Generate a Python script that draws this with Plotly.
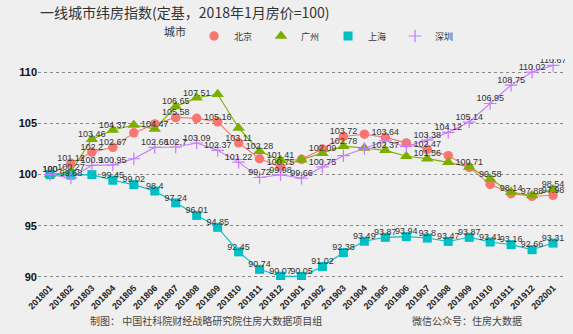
import plotly.graph_objects as go

months = ["201801", "201802", "201803", "201804", "201805", "201806", "201807", "201808",
          "201809", "201810", "201811", "201812", "201901", "201902", "201903", "201904",
          "201905", "201906", "201907", "201908", "201909", "201910", "201911", "201912", "202001"]

beijing = [100, 101.12, 102.2, 102.67, 104.08, 104.95, 105.58, 105.5, 105.16, 103.11, 101.55, 100.75,
           101.5, 102.5, 103.72, 103.95, 103.64, 103.1, 102.47, 101.85, 100.71, 99.05, 98.14, 97.88, 97.98]
guangzhou = [100, 100.27, 103.46, 104.37, 104.85, 104.47, 106.65, 107.51, 107.85, 104.56, 102.28, 101.41,
             101.45, 102.09, 102.78, 102.6, 102.37, 101.8, 101.56, 101.2, 100.75, 99.58, 98.3, 97.95, 98.54]
shanghai = [100, 99.95, 100, 99.45, 99.02, 98.4, 97.24, 96.01, 94.85, 92.45, 90.74, 90.07,
            90.05, 91.02, 92.38, 93.49, 93.87, 93.94, 93.8, 93.47, 93.87, 93.41, 93.16, 92.66, 93.31]
shenzhen = [100, 99.68, 100.9, 100.95, 101.55, 102.66, 102.7, 103.09, 102.37, 101.22, 99.72, 99.98,
            99.66, 100.75, 101.85, 102.55, 103.3, 102.75, 103.38, 104.12, 105.14, 106.95, 108.75, 110.02, 110.67]

bj_hidden = ["201805", "201806", "201808", "201811", "201901", "201902", "201904", "201906", "201908", "201910"]
gz_hidden = ["201801", "201805", "201809", "201810", "201901", "201904", "201906", "201908", "201909", "201911", "201912"]
sh_hidden = ["201802", "201803"]
sz_hidden = ["201801", "201805", "201903", "201904", "201905", "201906"]

y_ticks = [90, 95, 100, 105, 110]

series = [
    ("北京", beijing, bj_hidden, "#F8766D", dict(symbol="circle", size=9.5)),
    ("广州", guangzhou, gz_hidden, "#7CAE00", dict(symbol="triangle-up", size=11)),
    ("上海", shanghai, sh_hidden, "#00BFC4", dict(symbol="square", size=9)),
    ("深圳", shenzhen, sz_hidden, "#C77CFF", dict(symbol="cross-thin-open", size=9, line=dict(width=1.2))),
]

fig = go.Figure()
for name, vals, hidden, color, mk in series:
    fig.add_trace(go.Scatter(x=months, y=vals, mode="lines", line=dict(color=color, width=1.1),
                             showlegend=False, hoverinfo="skip"))
for name, vals, hidden, color, mk in series:
    m = dict(mk)
    m["color"] = color
    if "line" in m:
        m["line"] = dict(m["line"], color=color)
    fig.add_trace(go.Scatter(x=months, y=vals, mode="markers", marker=m, name=name))
for name, vals, hidden, color, mk in series:
    texts = ["" if mo in hidden else str(v) for mo, v in zip(months, vals)]
    fig.add_trace(go.Scatter(x=months, y=vals, mode="text", text=texts, textposition="top center",
                             marker=dict(size=1),
                             textfont=dict(family="Liberation Sans, Arial", size=9, color="#333333"),
                             showlegend=False, hoverinfo="skip"))

bg = "#EFEFEF"
fig.update_layout(
    width=573, height=334, autosize=False,
    margin=dict(l=38, r=8, t=59, b=54),
    paper_bgcolor=bg, plot_bgcolor=bg,
    title=dict(text="一线城市纬房指数(定基，2018年1月房价=100)", x=0.07, xanchor="left",
               xref="container", y=0.962, yref="container", yanchor="middle",
               font=dict(family="Noto Sans CJK SC", size=14, color="#333333")),
    legend=dict(orientation="h", x=0.52, xanchor="center", y=1.104, yanchor="middle",
                title=dict(text="城市", font=dict(family="Noto Sans CJK SC", size=11, color="#333333")),
                font=dict(family="Noto Sans CJK SC", size=9, color="#333333"),
                itemwidth=30, entrywidth=22, entrywidthmode="pixels", bgcolor="rgba(0,0,0,0)"),
    xaxis=dict(type="category", range=[-0.57, 24.57], tickangle=-45, showgrid=False, zeroline=False,
               ticks="", showline=False,
               tickfont=dict(family="Liberation Sans, Arial", size=9, color="#222222", weight="bold")),
    yaxis=dict(range=[89.7, 111.3], tickvals=y_ticks, showgrid=True, gridcolor="#888888",
               griddash="dot", gridwidth=1, zeroline=False, ticks="", showline=False,
               tickfont=dict(family="Liberation Sans, Arial", size=11, color="#111111", weight="bold")),
    annotations=[
        dict(text="制图： 中国社科院财经战略研究院住房大数据项目组", xref="paper", yref="paper",
             x=0.095, y=-0.181, xanchor="left", yanchor="middle", showarrow=False,
             font=dict(family="Noto Sans CJK SC", size=10, color="#444444")),
        dict(text="微信公众号：住房大数据", xref="paper", yref="paper",
             x=0.706, y=-0.181, xanchor="left", yanchor="middle", showarrow=False,
             font=dict(family="Noto Sans CJK SC", size=10, color="#444444")),
    ],
)

fig.write_html("out.html")
